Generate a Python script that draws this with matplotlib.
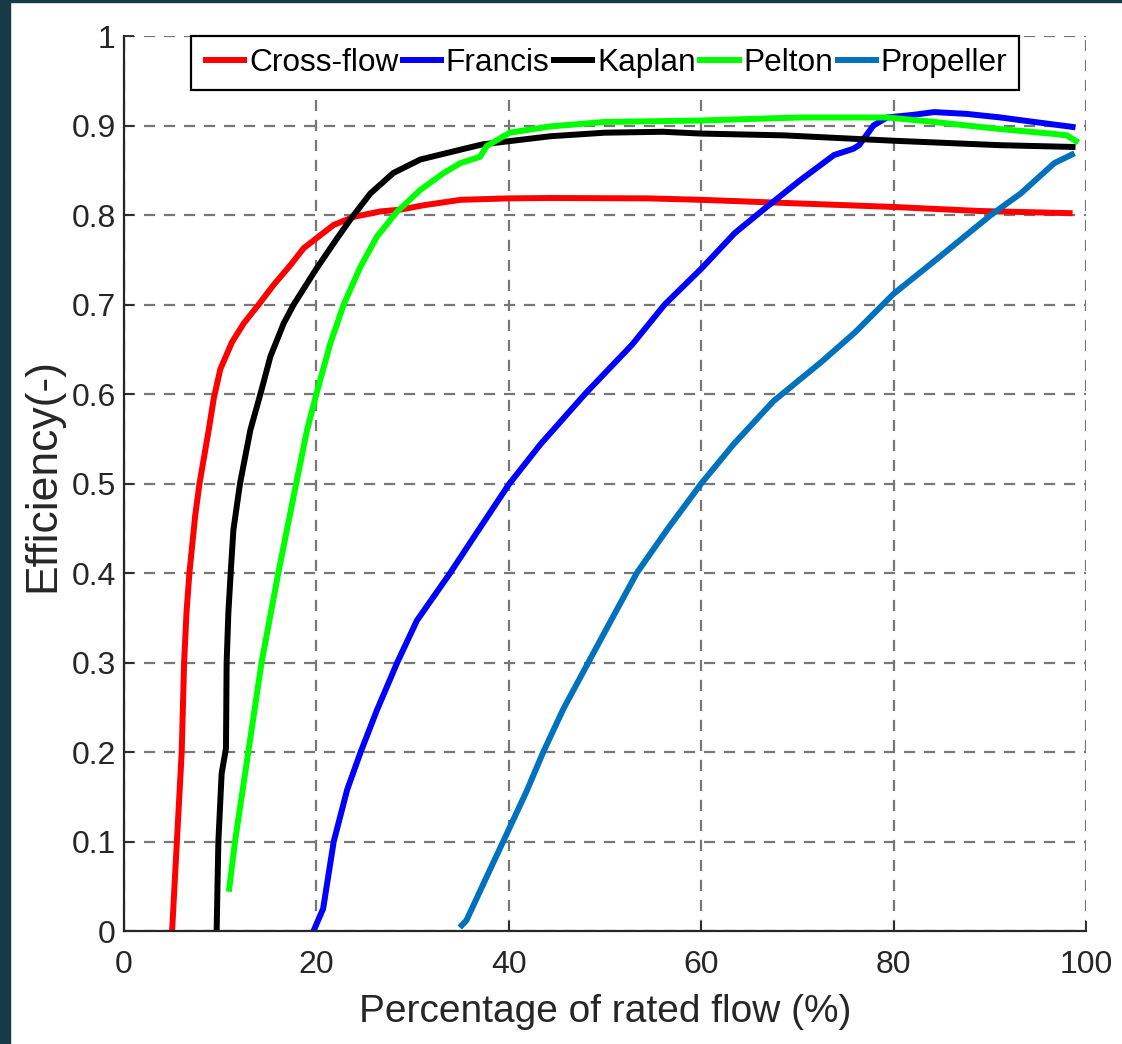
import matplotlib
matplotlib.use('Agg')
import matplotlib.pyplot as plt
from matplotlib.patches import Rectangle

# Datos
cross_x = [5.0, 5.5, 6.0, 6.25, 6.5, 6.8, 7.4, 7.85, 8.81, 9.33, 10.02, 11.23, 12.45, 14.0, 15.56, 17.3,
           18.68, 20.0, 21.8, 23.9, 26.65, 28.7, 31.2, 35.0, 40, 44.3, 54.4, 60, 67.4, 80, 88.9, 98.6]
cross_y = [0, 0.1, 0.2, 0.3, 0.356, 0.4, 0.464, 0.5, 0.56, 0.595, 0.628, 0.658, 0.679, 0.70, 0.722, 0.744,
           0.763, 0.774, 0.789, 0.798, 0.804, 0.806, 0.811, 0.817, 0.8186, 0.819, 0.8186, 0.817, 0.814,
           0.809, 0.8045, 0.802]

francis_x = [19.7, 20.7, 21.8, 23.2, 24.6, 26.3, 28.4, 30.45, 33.9, 36.6, 40, 43.3, 48.0, 52.8, 56.2,
             60, 63.5, 66.8, 70.3, 73.8, 75.8, 76.4, 77.9, 79.3, 82.1, 84.2, 87.6, 91.1, 94.6, 98.9]
francis_y = [0, 0.025, 0.1, 0.158, 0.2, 0.247, 0.3, 0.347, 0.4, 0.444, 0.499, 0.544, 0.601, 0.655, 0.7,
             0.74, 0.78, 0.809, 0.839, 0.867, 0.874, 0.878, 0.9, 0.909, 0.912, 0.915, 0.913, 0.909, 0.904, 0.898]

kaplan_x = [9.63, 9.81, 10.15, 10.6, 10.67, 10.85, 11.09, 11.37, 12.06, 13.14, 14.18, 15.22, 16.6, 17.64,
            20.0, 22.15, 23.53, 25.6, 28.0, 30.8, 34.97, 37.3, 44.3, 50, 56, 60, 68.6, 80, 91.1, 98.9]
kaplan_y = [0, 0.1, 0.176, 0.204, 0.3, 0.356, 0.4, 0.448, 0.5, 0.56, 0.6, 0.642, 0.679, 0.70,
            0.740, 0.774, 0.795, 0.824, 0.847, 0.862, 0.873, 0.879, 0.888, 0.892, 0.893, 0.891, 0.889,
            0.883, 0.878, 0.876]

pelton_x = [10.9, 11.54, 12.92, 14.3, 16.04, 17.9, 19.03, 20.0, 21.46, 22.84, 24.57, 26.3, 28.4, 30.8,
            33.24, 34.97, 37.0, 37.7, 40.1, 44.3, 50, 59.9, 70.3, 79.3, 84.2, 91.1, 96.3, 98, 99.2]
pelton_y = [0.044, 0.1, 0.2, 0.3, 0.4, 0.5, 0.56, 0.6, 0.657, 0.70, 0.742, 0.776, 0.804, 0.828,
            0.847, 0.858, 0.865, 0.877, 0.892, 0.899, 0.904, 0.9056, 0.909, 0.909, 0.904, 0.896, 0.891,
            0.889, 0.881]

prop_x = [34.9, 35.6, 37.67, 39.76, 41.84, 43.58, 45.66, 48.26, 50.87, 53.3, 56.42, 60.0, 63.37, 67.5,
          72.5, 76.0, 80, 84.4, 90.1, 93.2, 96.7, 98.8]
prop_y = [0.004, 0.012, 0.06, 0.108, 0.156, 0.2, 0.248, 0.3, 0.352, 0.4, 0.448, 0.5, 0.544, 0.592,
          0.636, 0.669, 0.712, 0.75, 0.8, 0.824, 0.858, 0.869]

nombres = ['Cross-flow', 'Francis', 'Kaplan', 'Pelton', 'Propeller']
cores = ['#FF0000', '#0000FF', '#000000', '#00FF00', '#0072BD']
x_ticks = [0, 20, 40, 60, 80, 100]
y_ticks = [0, 0.1, 0.2, 0.3, 0.4, 0.5, 0.6, 0.7, 0.8, 0.9, 1]
y_labels = ['0', '0.1', '0.2', '0.3', '0.4', '0.5', '0.6', '0.7', '0.8', '0.9', '1']

plt.rcParams['font.family'] = ['Liberation Sans', 'DejaVu Sans']
texto = '#262626'

fig = plt.figure(figsize=(11.22, 10.44), dpi=100)
ax = fig.add_axes([0.1105, 0.1082, 0.8575, 0.8573])

series = [(cross_x, cross_y), (francis_x, francis_y), (kaplan_x, kaplan_y),
          (pelton_x, pelton_y), (prop_x, prop_y)]
for (xs, ys), nome, cor in zip(series, nombres, cores):
    ax.plot(xs, ys, color=cor, lw=4.3, label=nome, solid_capstyle='butt', solid_joinstyle='round')

ax.set_xlim(0, 100)
ax.set_ylim(0, 1)
ax.set_xticks(x_ticks)
ax.set_yticks(y_ticks)
ax.set_yticklabels(y_labels)

# grade tracejada estilo MATLAB
ax.grid(True, color='#777777', linestyle=(0, (5, 4)), linewidth=1.6)
ax.set_axisbelow(True)
ax.spines['top'].set_visible(False)
ax.spines['right'].set_visible(False)
for s in ['left', 'bottom']:
    ax.spines[s].set_color(texto)
    ax.spines[s].set_linewidth(1.6)

ax.tick_params(direction='in', length=7, width=1.3, colors=texto, labelsize=23)
ax.tick_params(axis='y', pad=6)
ax.tick_params(axis='x', pad=14)

ax.set_xlabel('Percentage of rated flow (%)', fontsize=28, color=texto)
ax.set_ylabel('Efficiency(-)', fontsize=32, color=texto)
ax.xaxis.set_label_coords(0.5, -0.07)
ax.yaxis.set_label_coords(-0.063, 0.51)

leg = ax.legend(loc='upper center', bbox_to_anchor=(0.5, 1.0), ncol=5, fontsize=22.8,
                handlelength=1.4, handletextpad=0.05, columnspacing=0.05, borderpad=0.38,
                borderaxespad=0, fancybox=False, framealpha=1)
leg.get_frame().set_edgecolor('#000000')
leg.get_frame().set_linewidth(1.6)
for t in leg.get_texts():
    t.set_color('#000000')

# borda escura da captura
fig.patches.append(Rectangle((0, 0), 10 / 1122, 1, transform=fig.transFigure,
                             color='#163a48', zorder=-1))
fig.patches.append(Rectangle((0, 1 - 2 / 1044), 1, 2 / 1044, transform=fig.transFigure,
                             color='#163a48', zorder=-1))

fig.savefig('out.png', dpi=100)
